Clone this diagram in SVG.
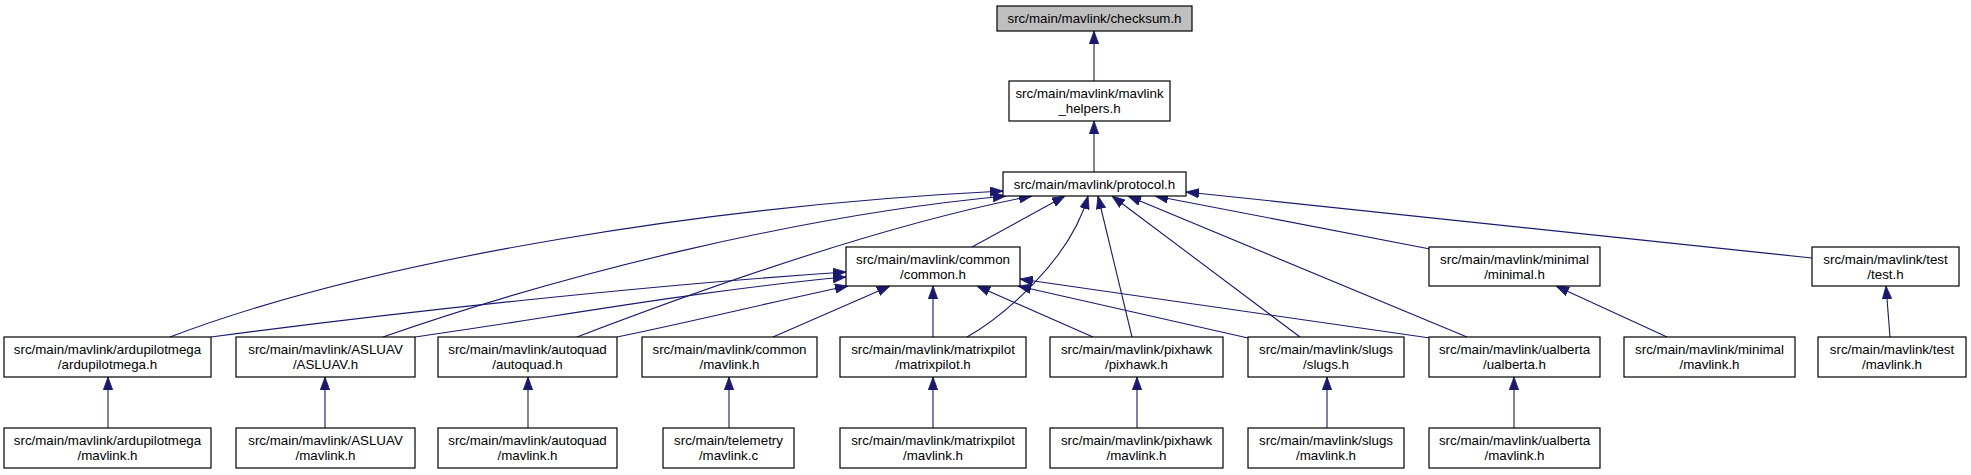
<svg xmlns="http://www.w3.org/2000/svg" width="1971" height="475" viewBox="0 0 1971 475">
<style>
.n rect{fill:#ffffff;stroke:#000000;stroke-width:1.2}
.n text{font-family:"Liberation Sans",Arial,Helvetica,sans-serif;font-size:13.33px;text-anchor:middle;fill:#000000}
#edges path{fill:none;stroke:#191970;stroke-width:1.1;marker-end:url(#a)}
</style>
<defs>
<marker id="a" viewBox="0 0 13 10" refX="13" refY="5" markerWidth="13" markerHeight="10" markerUnits="userSpaceOnUse" orient="auto">
<path d="M0,0.3 L13,5 L0,9.7 z" fill="#191970" stroke="#191970" stroke-width="0.8"/>
</marker>
</defs>
<rect width="1971" height="475" fill="#ffffff"/>
<g id="edges">
<path d="M1094,81 L1094,31"/>
<path d="M1094,172 L1094,121"/>
<path d="M170,337 C380,257 720,205 1003,191"/>
<path d="M383,337 C560,275 800,215 1006,196"/>
<path d="M577,337 C700,290 880,225 1032,196"/>
<path d="M972,247 L1065,196"/>
<path d="M967,337 C1000,318 1070,262 1088,196"/>
<path d="M1132,337 L1098,196"/>
<path d="M1300,337 L1112,196"/>
<path d="M1467,337 L1128,196"/>
<path d="M1430,249 L1155,196"/>
<path d="M1812,258 L1186,192"/>
<path d="M211,337 C400,312 650,285 846,272"/>
<path d="M415,337 C550,318 700,290 846,277"/>
<path d="M617,337 C700,320 780,300 848,286"/>
<path d="M773,337 L890,286"/>
<path d="M933,337 L933,286"/>
<path d="M1093,337 L977,286"/>
<path d="M1248,338 L1018,286"/>
<path d="M1430,338 L1020,279"/>
<path d="M1667,337 L1556,286"/>
<path d="M1890,337 L1886,286"/>
<path d="M108,428 L108,377"/>
<path d="M325,428 L325,377"/>
<path d="M528,428 L528,377"/>
<path d="M729,428 L729,377"/>
<path d="M933,428 L933,377"/>
<path d="M1137,428 L1137,377"/>
<path d="M1327,428 L1327,377"/>
<path d="M1514,428 L1514,377"/>
</g>
<g id="checksum" class="n"><rect x="997" y="6" width="195" height="25" style="fill:#bfbfbf"/><text x="1094.5" y="23">src/main/mavlink/checksum.h</text></g>
<g id="helpers" class="n"><rect x="1009" y="81" width="161" height="40"/><text x="1089.5" y="98">src/main/mavlink/mavlink</text><text x="1089.5" y="113">_helpers.h</text></g>
<g id="protocol" class="n"><rect x="1003" y="172" width="183" height="24"/><text x="1094.5" y="188.5">src/main/mavlink/protocol.h</text></g>
<g id="common" class="n"><rect x="846" y="247" width="174" height="39"/><text x="933" y="263.5">src/main/mavlink/common</text><text x="933" y="278.5">/common.h</text></g>
<g id="minimal" class="n"><rect x="1429" y="247" width="171" height="39"/><text x="1514.5" y="263.5">src/main/mavlink/minimal</text><text x="1514.5" y="278.5">/minimal.h</text></g>
<g id="test" class="n"><rect x="1812" y="247" width="147" height="39"/><text x="1885.5" y="263.5">src/main/mavlink/test</text><text x="1885.5" y="278.5">/test.h</text></g>
<g id="ardupilotmega" class="n"><rect x="4" y="337" width="207" height="40"/><text x="107.5" y="354">src/main/mavlink/ardupilotmega</text><text x="107.5" y="369">/ardupilotmega.h</text></g>
<g id="asluav" class="n"><rect x="236" y="337" width="179" height="40"/><text x="325.5" y="354">src/main/mavlink/ASLUAV</text><text x="325.5" y="369">/ASLUAV.h</text></g>
<g id="autoquad" class="n"><rect x="438" y="337" width="179" height="40"/><text x="527.5" y="354">src/main/mavlink/autoquad</text><text x="527.5" y="369">/autoquad.h</text></g>
<g id="common_mavlink" class="n"><rect x="642" y="337" width="175" height="40"/><text x="729.5" y="354">src/main/mavlink/common</text><text x="729.5" y="369">/mavlink.h</text></g>
<g id="matrixpilot" class="n"><rect x="840" y="337" width="186" height="40"/><text x="933" y="354">src/main/mavlink/matrixpilot</text><text x="933" y="369">/matrixpilot.h</text></g>
<g id="pixhawk" class="n"><rect x="1050" y="337" width="173" height="40"/><text x="1136.5" y="354">src/main/mavlink/pixhawk</text><text x="1136.5" y="369">/pixhawk.h</text></g>
<g id="slugs" class="n"><rect x="1248" y="337" width="156" height="40"/><text x="1326" y="354">src/main/mavlink/slugs</text><text x="1326" y="369">/slugs.h</text></g>
<g id="ualberta" class="n"><rect x="1429" y="337" width="171" height="40"/><text x="1514.5" y="354">src/main/mavlink/ualberta</text><text x="1514.5" y="369">/ualberta.h</text></g>
<g id="minimal_mavlink" class="n"><rect x="1624" y="337" width="171" height="40"/><text x="1709.5" y="354">src/main/mavlink/minimal</text><text x="1709.5" y="369">/mavlink.h</text></g>
<g id="test_mavlink" class="n"><rect x="1818" y="337" width="148" height="40"/><text x="1892" y="354">src/main/mavlink/test</text><text x="1892" y="369">/mavlink.h</text></g>
<g id="ardupilotmega_mavlink" class="n"><rect x="4" y="428" width="207" height="40"/><text x="107.5" y="445">src/main/mavlink/ardupilotmega</text><text x="107.5" y="460">/mavlink.h</text></g>
<g id="asluav_mavlink" class="n"><rect x="236" y="428" width="179" height="40"/><text x="325.5" y="445">src/main/mavlink/ASLUAV</text><text x="325.5" y="460">/mavlink.h</text></g>
<g id="autoquad_mavlink" class="n"><rect x="438" y="428" width="179" height="40"/><text x="527.5" y="445">src/main/mavlink/autoquad</text><text x="527.5" y="460">/mavlink.h</text></g>
<g id="telemetry_mavlink" class="n"><rect x="663" y="428" width="131" height="40"/><text x="728.5" y="445">src/main/telemetry</text><text x="728.5" y="460">/mavlink.c</text></g>
<g id="matrixpilot_mavlink" class="n"><rect x="840" y="428" width="186" height="40"/><text x="933" y="445">src/main/mavlink/matrixpilot</text><text x="933" y="460">/mavlink.h</text></g>
<g id="pixhawk_mavlink" class="n"><rect x="1050" y="428" width="173" height="40"/><text x="1136.5" y="445">src/main/mavlink/pixhawk</text><text x="1136.5" y="460">/mavlink.h</text></g>
<g id="slugs_mavlink" class="n"><rect x="1248" y="428" width="156" height="40"/><text x="1326" y="445">src/main/mavlink/slugs</text><text x="1326" y="460">/mavlink.h</text></g>
<g id="ualberta_mavlink" class="n"><rect x="1429" y="428" width="171" height="40"/><text x="1514.5" y="445">src/main/mavlink/ualberta</text><text x="1514.5" y="460">/mavlink.h</text></g>
</svg>
